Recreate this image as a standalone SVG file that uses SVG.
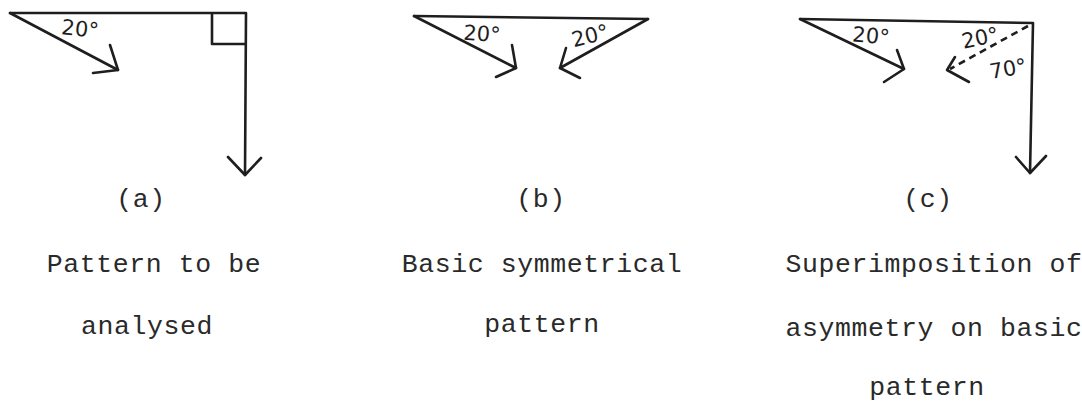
<svg xmlns="http://www.w3.org/2000/svg" width="1082" height="405" viewBox="0 0 1082 405">
  <style>
    .ln { fill: none; stroke: #1e1e1e; stroke-width: 2.6; stroke-linecap: round; stroke-linejoin: round; }
    .dash { stroke-dasharray: 7 5; stroke-linecap: butt; }
    .hw { font-family: "DejaVu Sans", "Liberation Sans", sans-serif; font-size: 21px; fill: #1e1e1e; text-anchor: middle; }
    .tw { font-family: "Liberation Mono", "DejaVu Sans Mono", monospace; font-size: 26.5px; fill: #2a2a2a; text-anchor: middle; letter-spacing: 0.6px; }
  </style>
  <rect width="1082" height="405" fill="#ffffff"/>

  <g id="panel-a">
    <g id="connectors-a">
      <path class="ln" d="M10,13 L246,13 L245,175"/>
      <path class="ln" d="M228,157 L245,175 L261,158"/>
      <path class="ln" d="M212,14 L212,44 L245,44"/>
      <path class="ln" d="M10,13 L118,70"/>
      <path class="ln" d="M110,45 L118,70 L93,73"/>
    </g>
    <text class="hw" x="80" y="36" transform="rotate(6 80 30)">20°</text>
    <text class="tw" x="141" y="207">(a)</text>
    <text class="tw" x="154" y="272">Pattern to be</text>
    <text class="tw" x="147" y="334">analysed</text>
  </g>

  <g id="panel-b">
    <g id="connectors-b">
      <path class="ln" d="M414,16 L648,19"/>
      <path class="ln" d="M414,16 L516,68"/>
      <path class="ln" d="M512,45 L516,68 L496,77"/>
      <path class="ln" d="M648,19 L560,68"/>
      <path class="ln" d="M566,48 L560,68 L580,78"/>
    </g>
    <text class="hw" x="482" y="41" transform="rotate(4 482 34)">20°</text>
    <text class="hw" x="590" y="43" transform="rotate(-14 590 35)">20°</text>
    <text class="tw" x="541" y="207">(b)</text>
    <text class="tw" x="542" y="272">Basic symmetrical</text>
    <text class="tw" x="542" y="332">pattern</text>
  </g>

  <g id="panel-c">
    <g id="connectors-c">
      <path class="ln" d="M800,19 L1033,23 L1030,173"/>
      <path class="ln" d="M1016,157 L1030,173 L1046,156"/>
      <path class="ln" d="M800,19 L904,69"/>
      <path class="ln" d="M897,50 L904,69 L884,82"/>
      <path class="ln dash" d="M1028,26 L950,69"/>
      <path class="ln" d="M955,57 L947,70 L969,82"/>
    </g>
    <text class="hw" x="871" y="43" transform="rotate(5 871 36)">20°</text>
    <text class="hw" x="980" y="45" transform="rotate(-12 980 37)">20°</text>
    <text class="hw" x="1008" y="76" transform="rotate(-10 1008 68)">70°</text>
    <text class="tw" x="928" y="207">(c)</text>
    <text class="tw" x="934" y="272">Superimposition of</text>
    <text class="tw" x="934" y="336">asymmetry on basic</text>
    <text class="tw" x="927" y="395">pattern</text>
  </g>
</svg>
